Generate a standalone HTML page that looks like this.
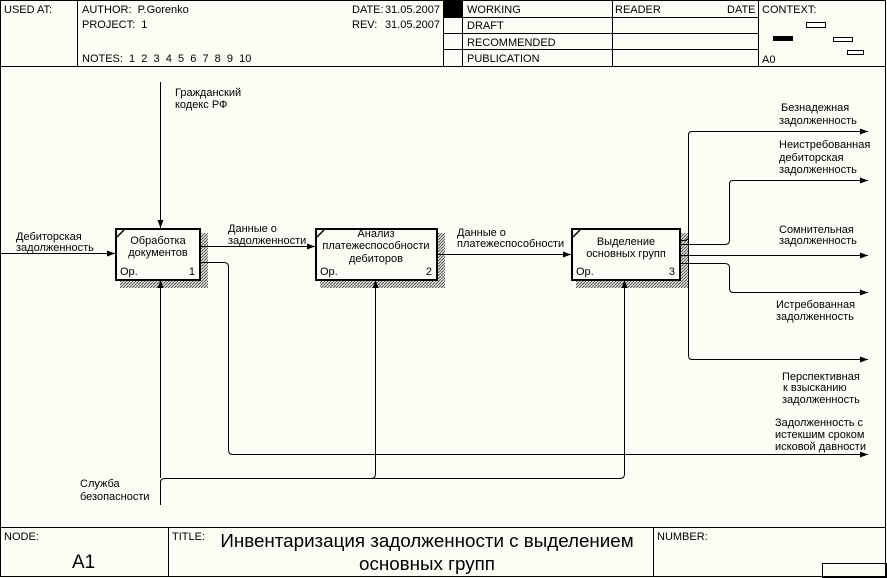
<!DOCTYPE html>
<html><head><meta charset="utf-8"><style>
html,body{margin:0;padding:0;background:#fcfcf4;}
svg{display:block;}
text{font-family:"Liberation Sans","DejaVu Sans",sans-serif;font-size:11px;fill:#000;}
</style></head><body>
<svg width="887" height="578" viewBox="0 0 887 578" xmlns="http://www.w3.org/2000/svg">
<defs>
<pattern id="h" width="3" height="3" patternUnits="userSpaceOnUse">
<rect width="3" height="3" fill="#e8e8e0"/>
<path d="M0,3 L3,0" stroke="#555" stroke-width="1"/>
</pattern>
<marker id="a" markerWidth="8" markerHeight="7" refX="8" refY="3.5" orient="auto" markerUnits="userSpaceOnUse">
<path d="M0,0.5 L8,3.5 L0,6.5 Z" fill="#000"/>
</marker>
</defs>
<rect x="0" y="0" width="887" height="578" fill="#fcfcf4"/>
<rect x="0.5" y="0.5" width="885" height="576" fill="none" stroke="#000"/>
<line x1="0" y1="66.5" x2="886" y2="66.5" stroke="#000"/>
<line x1="77.5" y1="0" x2="77.5" y2="66" stroke="#000"/>
<line x1="443.5" y1="0" x2="443.5" y2="66" stroke="#000"/>
<line x1="462.5" y1="0" x2="462.5" y2="66" stroke="#000"/>
<line x1="612.5" y1="0" x2="612.5" y2="66" stroke="#000"/>
<line x1="758.5" y1="0" x2="758.5" y2="66" stroke="#000"/>
<line x1="443" y1="17.5" x2="758" y2="17.5" stroke="#000"/>
<line x1="443" y1="33.5" x2="758" y2="33.5" stroke="#000"/>
<line x1="443" y1="49.5" x2="758" y2="49.5" stroke="#000"/>
<rect x="444" y="0" width="18" height="17" fill="#000"/>
<text x="4" y="13">USED AT:</text>
<text x="82" y="13" xml:space="preserve">AUTHOR:  P.Gorenko</text>
<text x="82" y="28" xml:space="preserve">PROJECT:  1</text>
<text x="82" y="62" xml:space="preserve">NOTES:  1  2  3  4  5  6  7  8  9  10</text>
<text x="352" y="13">DATE:</text>
<text x="440" y="13" text-anchor="end">31.05.2007</text>
<text x="352" y="28">REV:</text>
<text x="440" y="28" text-anchor="end">31.05.2007</text>
<text x="467" y="13">WORKING</text>
<text x="467" y="29">DRAFT</text>
<text x="467" y="46">RECOMMENDED</text>
<text x="467" y="62">PUBLICATION</text>
<text x="615" y="13">READER</text>
<text x="727" y="13">DATE</text>
<text x="762" y="13">CONTEXT:</text>
<text x="762" y="63">A0</text>
<rect x="806.5" y="22.5" width="19" height="5" fill="#fff" stroke="#000"/>
<rect x="773" y="36" width="20" height="5" fill="#000"/>
<rect x="833.5" y="37.5" width="19" height="4" fill="#fff" stroke="#000"/>
<rect x="847.5" y="50.5" width="16" height="4" fill="#fff" stroke="#000"/>
<line x1="0" y1="527.5" x2="886" y2="527.5" stroke="#000"/>
<line x1="168.5" y1="527" x2="168.5" y2="577" stroke="#000"/>
<line x1="653.5" y1="527" x2="653.5" y2="577" stroke="#000"/>
<rect x="822.5" y="563.5" width="64" height="14" fill="none" stroke="#000"/>
<text x="4" y="540">NODE:</text>
<text x="172" y="540">TITLE:</text>
<text x="657" y="540">NUMBER:</text>
<text x="72" y="568" style="font-size:19px">A1</text>
<text x="427" y="547" text-anchor="middle" style="font-size:18.8px">Инвентаризация задолженности с выделением</text>
<text x="427" y="570" text-anchor="middle" style="font-size:18.8px">основных групп</text>

<rect x="200" y="233" width="8" height="55" fill="url(#h)"/>
<rect x="120" y="280" width="88" height="8" fill="url(#h)"/>
<rect x="437" y="233" width="8" height="55" fill="url(#h)"/>
<rect x="320" y="280" width="125" height="8" fill="url(#h)"/>
<rect x="680" y="233" width="8" height="55" fill="url(#h)"/>
<rect x="576" y="280" width="112" height="8" fill="url(#h)"/>

<g fill="none" stroke="#000" stroke-width="1">
<line x1="0" y1="253.5" x2="115" y2="253.5" marker-end="url(#a)"/>
<line x1="160.5" y1="82" x2="160.5" y2="228" marker-end="url(#a)"/>
<line x1="200" y1="246.5" x2="315" y2="246.5" marker-end="url(#a)"/>
<line x1="437" y1="254.5" x2="571" y2="254.5" marker-end="url(#a)"/>
<path d="M200,262.5 H224 Q228.5,262.5 228.5,267 V450 Q228.5,454.5 233,454.5 H868" marker-end="url(#a)"/>
<path d="M160.5,505 V482 Q160.5,478.5 165,478.5 H620 Q624.5,478.5 624.5,474 V280" marker-end="url(#a)"/>
<line x1="160.5" y1="478" x2="160.5" y2="280" marker-end="url(#a)"/>
<path d="M371,478.5 Q375.5,478.5 375.5,474 V280" marker-end="url(#a)"/>
<path d="M680,240.5 H684 Q688.5,240.5 688.5,236 V135 Q688.5,131.5 692,131.5 H868" marker-end="url(#a)"/>
<path d="M688.5,236 V355 Q688.5,359.5 692,359.5 H868" marker-end="url(#a)"/>
<path d="M680,244.5 H725 Q729.5,244.5 729.5,240 V184 Q729.5,180.5 733,180.5 H868" marker-end="url(#a)"/>
<line x1="680" y1="255.5" x2="868" y2="255.5" marker-end="url(#a)"/>
<path d="M680,263.5 H725 Q729.5,263.5 729.5,268 V288 Q729.5,292.5 733,292.5 H868" marker-end="url(#a)"/>
</g>

<g fill="#fcfcf4" stroke="#000" stroke-width="2">
<rect x="116" y="229" width="84" height="51"/>
<rect x="316" y="229" width="121" height="51"/>
<rect x="572" y="229" width="108" height="51"/>
</g>
<g stroke="#000" stroke-width="1.5">
<line x1="117" y1="237" x2="124" y2="230"/>
<line x1="317" y1="237" x2="324" y2="230"/>
<line x1="573" y1="237" x2="580" y2="230"/>
</g>
<text x="158" y="244" text-anchor="middle">Обработка</text>
<text x="158" y="256" text-anchor="middle">документов</text>
<text x="120" y="275">Ор.</text><text x="195" y="275" text-anchor="end">1</text>
<text x="376" y="237" text-anchor="middle">Анализ</text>
<text x="376" y="249" text-anchor="middle">платежеспособности</text>
<text x="376" y="262" text-anchor="middle">дебиторов</text>
<text x="320" y="275">Ор.</text><text x="432" y="275" text-anchor="end">2</text>
<text x="626" y="245" text-anchor="middle">Выделение</text>
<text x="626" y="257" text-anchor="middle">основных групп</text>
<text x="576" y="275">Ор.</text><text x="675" y="275" text-anchor="end">3</text>

<text x="175" y="96">Гражданский</text>
<text x="175" y="108">кодекс РФ</text>
<text x="16" y="240">Дебиторская</text>
<text x="16" y="251">задолженность</text>
<text x="228" y="232">Данные о</text>
<text x="228" y="244">задолженности</text>
<text x="457" y="236">Данные о</text>
<text x="457" y="247">платежеспособности</text>
<text x="80" y="487">Служба</text>
<text x="80" y="500">безопасности</text>
<text x="781" y="111">Безнадежная</text>
<text x="779" y="124">задолженность</text>
<text x="779" y="148">Неистребованная</text>
<text x="779" y="161">дебиторская</text>
<text x="779" y="173">задолженность</text>
<text x="779" y="233">Сомнительная</text>
<text x="779" y="244">задолженность</text>
<text x="776" y="308">Истребованная</text>
<text x="776" y="320">задолженность</text>
<text x="782" y="380">Перспективная</text>
<text x="783" y="391">к взысканию</text>
<text x="782" y="403">задолженность</text>
<text x="775" y="426">Задолженность с</text>
<text x="775" y="438">истекшим сроком</text>
<text x="775" y="450">исковой давности</text>
</svg>
</body></html>
